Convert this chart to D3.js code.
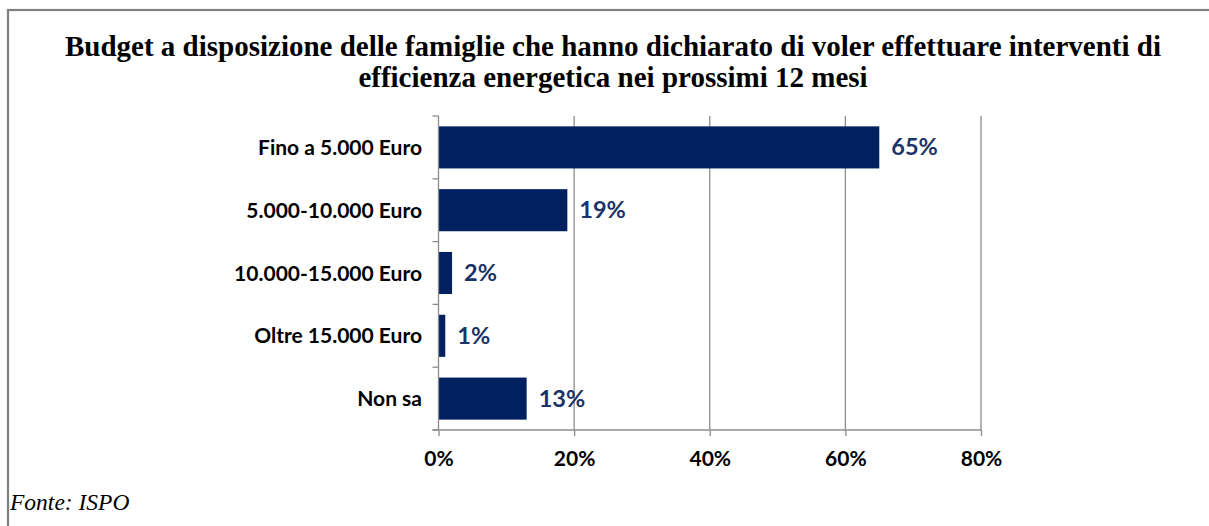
<!DOCTYPE html>
<html>
<head>
<meta charset="utf-8">
<script src="https://cdn.jsdelivr.net/npm/d3@7"></script>
<style>
	body { margin: 0; background: #fff; }
	svg { display: block; }
</style>
</head>
<body>
<div id="chart"></div>
<script>
var titleLines = [
	'Budget a disposizione delle famiglie che hanno dichiarato di voler effettuare interventi di',
	'efficienza energetica nei prossimi 12 mesi'
]
var categories = ['Fino a 5.000 Euro', '5.000-10.000 Euro', '10.000-15.000 Euro', 'Oltre 15.000 Euro', 'Non sa']
var values = [65, 19, 2, 1, 13]
var xTicks = [0, 20, 40, 60, 80]
var source = 'Fonte: ISPO'

function createChart() {
	let width = 1209
	let height = 526
	var plot = { left: 438.5, right: 981, top: 116, bottom: 430 }

	const svg = d3.select('#chart').append('svg')
		.attr('width', width)
		.attr('height', height)

	// frame (cut by the window on right and bottom)
	svg.append('rect')
		.attr('x', 8)
		.attr('y', 10)
		.attr('width', width + 20)
		.attr('height', height + 20)
		.attr('fill', 'none')
		.attr('stroke', '#808080')
		.attr('stroke-width', 2.2)

	var x = d3.scaleLinear()
		.domain([0, 80])
		.range([plot.left, plot.right])

	var y = d3.scaleBand()
		.domain(categories)
		.range([plot.top, plot.bottom])
		.paddingInner(0.33)
		.paddingOuter(0.165)

	// title
	svg.append('text')
		.attr('x', 613)
		.attr('y', 56)
		.attr('text-anchor', 'middle')
		.style('font-family', '"Liberation Serif", "Times New Roman", serif')
		.style('font-weight', 'bold')
		.style('font-size', '29px')
		.attr('fill', '#000')
		.selectAll('tspan')
		.data(titleLines)
		.enter()
		.append('tspan')
		.attr('x', 613)
		.attr('dy', (d, i) => i == 0 ? 0 : 31)
		.text(d => d)

	// gridlines
	svg.append('g')
		.selectAll('line')
		.data(xTicks.slice(1))
		.enter()
		.append('line')
		.attr('x1', d => x(d))
		.attr('x2', d => x(d))
		.attr('y1', plot.top)
		.attr('y2', plot.bottom)
		.attr('stroke', '#8c8c8c')
		.attr('stroke-width', 1.3)

	// bars
	svg.append('g')
		.selectAll('rect')
		.data(values)
		.enter()
		.append('rect')
		.attr('x', x(0))
		.attr('y', (d, i) => y(categories[i]))
		.attr('width', d => x(d) - x(0))
		.attr('height', y.bandwidth())
		.attr('fill', '#002060')

	// value labels
	svg.append('g')
		.selectAll('text')
		.data(values)
		.enter()
		.append('text')
		.attr('x', d => x(d) + 12)
		.attr('y', (d, i) => y(categories[i]) + y.bandwidth() / 2 + 8)
		.style('font-family', 'Lato, "Open Sans", sans-serif')
		.style('font-weight', 'bold')
		.style('font-size', '23.5px')
		.attr('fill', '#1a3368')
		.text(d => d + '%')

	// y axis
	var yAxis = svg.append('g')
	yAxis.append('line')
		.attr('x1', x(0))
		.attr('x2', x(0))
		.attr('y1', plot.top)
		.attr('y2', plot.bottom)
		.attr('stroke', '#8c8c8c')
		.attr('stroke-width', 1.3)

	var step = y.step()
	yAxis.selectAll('.ytick')
		.data(d3.range(categories.length + 1))
		.enter()
		.append('line')
		.attr('class', 'ytick')
		.attr('x1', x(0) - 6)
		.attr('x2', x(0))
		.attr('y1', i => plot.top + i * step)
		.attr('y2', i => plot.top + i * step)
		.attr('stroke', '#8c8c8c')
		.attr('stroke-width', 1.3)

	yAxis.selectAll('text')
		.data(categories)
		.enter()
		.append('text')
		.attr('x', 422)
		.attr('y', d => y(d) + y.bandwidth() / 2 + 7.5)
		.attr('text-anchor', 'end')
		.style('font-family', 'Lato, "Open Sans", sans-serif')
		.style('font-weight', 'bold')
		.style('font-size', '21px')
		.attr('fill', '#000')
		.text(d => d)

	// x axis
	var xAxis = svg.append('g')
		.attr('transform', 'translate(0,' + plot.bottom + ')')
		.call(d3.axisBottom(x).tickValues(xTicks).tickSize(6).tickSizeOuter(0).tickFormat(d => d + '%'))

	xAxis.select('.domain')
		.attr('d', 'M' + (x(0) - 6) + ',0H' + x(80))
		.attr('stroke', '#8c8c8c')
		.attr('stroke-width', 1.3)
	xAxis.selectAll('.tick line')
		.attr('stroke', '#8c8c8c')
		.attr('stroke-width', 1.3)
	xAxis.selectAll('.tick text')
		.attr('y', 21)
		.attr('dy', '0.71em')
		.style('font-family', 'Lato, "Open Sans", sans-serif')
		.style('font-weight', 'bold')
		.style('font-size', '21px')
		.attr('fill', '#000')

	// source
	svg.append('text')
		.attr('x', 10)
		.attr('y', 510)
		.style('font-family', '"Liberation Serif", "Times New Roman", serif')
		.style('font-style', 'italic')
		.style('font-size', '23.5px')
		.attr('fill', '#000')
		.text(source)
}

createChart()
</script>
</body>
</html>
